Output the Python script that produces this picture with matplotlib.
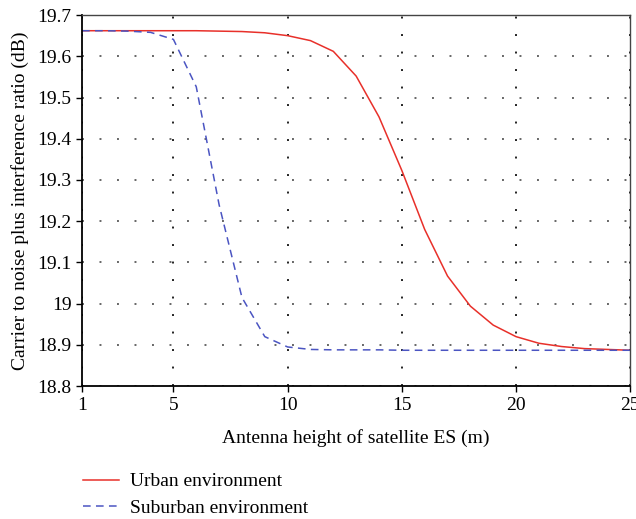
import numpy as np
import matplotlib.pyplot as plt

plt.rcParams['font.family'] = ['Liberation Serif', 'DejaVu Serif']

height = list(range(1, 26))
urban = [19.662, 19.662, 19.662, 19.662, 19.662, 19.662, 19.661, 19.66, 19.657, 19.65,
         19.638, 19.612, 19.552, 19.453, 19.323, 19.18, 19.067, 18.994, 18.948, 18.92,
         18.904, 18.896, 18.891, 18.889, 18.887]
suburban = [19.662, 19.662, 19.661, 19.658, 19.641, 19.526, 19.24, 19.015, 18.92, 18.895,
            18.889, 18.888, 18.888, 18.888, 18.887, 18.887, 18.887, 18.887, 18.887, 18.887,
            18.887, 18.887, 18.887, 18.887, 18.887]

fig = plt.figure(figsize=(6.36, 5.19), dpi=100)
ax = fig.add_axes([0.129, 0.256, 0.862, 0.715])

ax.plot(height, urban, color='#e8302a', lw=1.1, label='Urban environment')
ax.plot(height, suburban, color='#4b55c2', lw=1.1, ls=(0, (5, 3.5)), label='Suburban environment')

ax.set_xlim(1, 25)
ax.set_ylim(18.8, 19.7)
ax.set_xticks([1, 5, 10, 15, 20, 25])
ax.set_yticks(np.arange(18.8, 19.71, 0.1))
ax.set_yticklabels(['18.8', '18.9', '19', '19.1', '19.2', '19.3', '19.4', '19.5', '19.6', '19.7'])
ax.tick_params(labelsize=14, length=4, width=1)
ax.grid(True, axis='x', ls=(0, (1, 8)), color='#222222', lw=1.4)
ax.grid(True, axis='y', ls=(0, (1, 8)), color='#666666', lw=1.4)

for s in ['left', 'bottom']:
    ax.spines[s].set_linewidth(1.3)
for s in ['top', 'right']:
    ax.spines[s].set_linewidth(1.0)
    ax.spines[s].set_color('#444444')

ax.set_xlabel('Antenna height of satellite ES (m)', fontsize=14, labelpad=11)
ax.set_ylabel('Carrier to noise plus interference ratio (dB)', fontsize=14, labelpad=6)

fig.legend(loc='upper left', bbox_to_anchor=(0.118, 0.104), frameon=False, fontsize=14,
           handlelength=1.85, handletextpad=0.6, labelspacing=0.45, borderaxespad=0)

fig.savefig('out.png', dpi=100)
